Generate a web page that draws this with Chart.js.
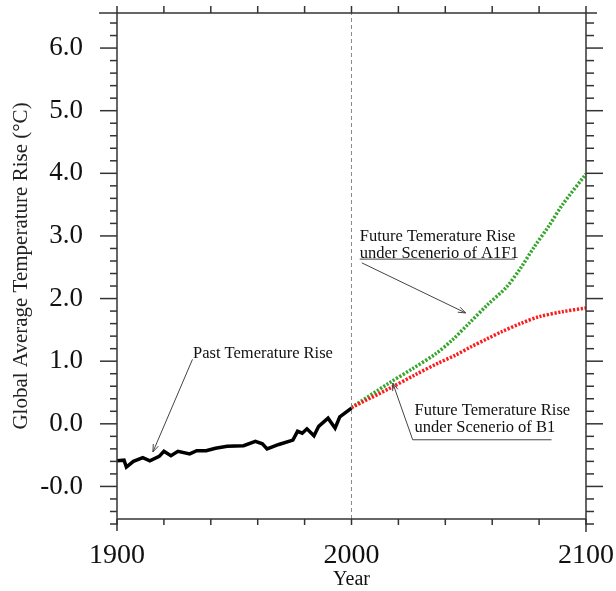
<!DOCTYPE html>
<html>
<head>
<meta charset="utf-8">
<script src="https://cdn.jsdelivr.net/npm/chart.js@4/dist/chart.umd.min.js"></script>
<style>
  html, body { margin: 0; padding: 0; background: #fff; }
  #wrap { width: 616px; height: 591px; }
</style>
</head>
<body>
<div id="wrap"><canvas id="chart" width="616" height="591"></canvas></div>
<script>
// observed record, 1900-2000
const pastYears = [1900, 1903, 1904, 1907, 1911, 1914, 1918, 1920, 1923, 1926, 1931, 1934, 1938, 1942, 1947,
                   1954, 1959, 1962, 1964, 1969, 1975, 1977, 1979, 1981, 1984, 1986, 1990, 1993, 1995, 2000];
const pastRise = [-0.59, -0.58, -0.69, -0.60, -0.54, -0.59, -0.52, -0.44, -0.51, -0.44, -0.48, -0.43, -0.43, -0.39, -0.36,
                  -0.35, -0.28, -0.32, -0.40, -0.33, -0.26, -0.12, -0.15, -0.08, -0.19, -0.04, 0.09, -0.07, 0.11, 0.25];

// projections
const a1f1Years = [2000, 2016, 2026, 2036, 2043, 2050, 2058, 2066, 2072, 2078, 2084, 2090, 2100];
const a1f1Rise = [0.26, 0.65, 0.88, 1.12, 1.34, 1.60, 1.90, 2.18, 2.48, 2.83, 3.15, 3.50, 3.99];
const b1Years = [2000, 2017, 2027, 2037, 2044, 2051, 2058, 2064, 2072, 2080, 2090, 2100];
const b1Rise = [0.26, 0.58, 0.78, 0.97, 1.09, 1.23, 1.36, 1.47, 1.60, 1.71, 1.79, 1.85];

const splitYear = 2000;
const xTickValues = [1900, 2000, 2100];
const yTickValues = [-1, 0, 1, 2, 3, 4, 5, 6];
const yTickLabels = ['-0.0', '0.0', '1.0', '2.0', '3.0', '4.0', '5.0', '6.0'];

const yMin = -1.52, yMax = 6.56;
const serif = "'Liberation Serif', 'Times New Roman', serif";

Chart.defaults.font.family = serif;
Chart.defaults.color = '#111';

function pairs(xs, ys) {
    return xs.map((x, i) => ({ x: x, y: ys[i] }));
}

// chart.js pads the area for edge labels; the frame here is fixed
function noEdgePadding(s) {
    s.paddingTop = 0;
    s.paddingBottom = 0;
    s.paddingLeft = 0;
    s.paddingRight = 0;
}

// text labels with leader lines, placed in data units
const notes = [
    { lines: ['Past Temerature Rise'], at: [1932.4, 1.05], from: [1932.2, 1.03], to: [1915.3, -0.45] },
    { lines: ['Future Temerature Rise', 'under Scenerio of A1F1'], at: [2003.5, 2.92],
      underline: [2003.5, 2069.7, 2.63], from: [2004.4, 2.57], to: [2048.7, 1.77] },
    { lines: ['Future Temerature Rise', 'under Scenerio of B1'], at: [2026.9, 0.14],
      underline: [2026.1, 2085.3, -0.255], from: [2026.1, -0.255], to: [2017.6, 0.65] }
];

const framePlugin = {
    id: 'frame',
    afterDatasetsDraw(chart) {
        const ctx = chart.ctx;
        const a = chart.chartArea;
        const x = chart.scales.x;
        const y = chart.scales.y;

        function seg(x1, y1, x2, y2) {
            ctx.beginPath();
            ctx.moveTo(x1, y1);
            ctx.lineTo(x2, y2);
            ctx.stroke();
        }

        ctx.save();
        ctx.strokeStyle = '#333';
        ctx.lineWidth = 1.5;
        seg(a.left - 18, a.top, a.right + 11, a.top);
        seg(a.left, a.bottom, a.right, a.bottom);
        seg(a.left, a.top, a.left, a.bottom + 12);
        seg(a.right, a.top, a.right, a.bottom + 13);

        // y ticks, minor every 0.2
        for (let i = -8; i <= 32; i++) {
            const py = y.getPixelForValue(i / 5);
            const major = i % 5 === 0;
            seg(a.left - (major ? 17 : 7), py, a.left, py);
            seg(a.right, py, a.right + (major ? 17 : 8), py);
        }
        // x ticks every 20 years
        for (let yr = 1900; yr <= 2100; yr += 20) {
            const px = x.getPixelForValue(yr);
            seg(px, a.bottom, px, a.bottom + 6);
            seg(px, a.top, px, a.top - 7);
        }

        // annotations
        ctx.font = '16.5px ' + serif;
        ctx.fillStyle = '#111';
        ctx.textBaseline = 'alphabetic';
        ctx.strokeStyle = '#444';
        ctx.lineWidth = 1;
        notes.forEach(n => {
            const tx = x.getPixelForValue(n.at[0]);
            const ty = y.getPixelForValue(n.at[1]);
            n.lines.forEach((s, i) => ctx.fillText(s, tx, ty + i * 16.7));
            if (n.underline) {
                const uy = y.getPixelForValue(n.underline[2]);
                seg(x.getPixelForValue(n.underline[0]), uy, x.getPixelForValue(n.underline[1]), uy);
            }
            const fx = x.getPixelForValue(n.from[0]), fy = y.getPixelForValue(n.from[1]);
            const ex = x.getPixelForValue(n.to[0]), ey = y.getPixelForValue(n.to[1]);
            seg(fx, fy, ex, ey);
            const ang = Math.atan2(ey - fy, ex - fx);
            seg(ex, ey, ex - 8 * Math.cos(ang - 0.35), ey - 8 * Math.sin(ang - 0.35));
            seg(ex, ey, ex - 8 * Math.cos(ang + 0.35), ey - 8 * Math.sin(ang + 0.35));
        });
        ctx.restore();
    }
};

new Chart(document.getElementById('chart'), {
    type: 'line',
    data: {
        datasets: [
            {
                label: 'Year 2000',
                data: pairs([splitYear, splitYear], [yMin, yMax]),
                borderColor: '#8a8a8a',
                borderWidth: 1,
                borderDash: [4, 3],
                pointRadius: 0
            },
            {
                label: 'Past Temerature Rise',
                data: pairs(pastYears, pastRise),
                borderColor: '#000',
                borderWidth: 3.5,
                pointRadius: 0,
                tension: 0
            },
            {
                label: 'B1',
                data: pairs(b1Years, b1Rise),
                borderColor: '#ff1a1a',
                borderWidth: 3.5,
                borderDash: [2.2, 1.6],
                borderCapStyle: 'butt',
                pointRadius: 0,
                tension: 0.3
            },
            {
                label: 'A1F1',
                data: pairs(a1f1Years, a1f1Rise),
                borderColor: '#35a52c',
                borderWidth: 3.5,
                borderDash: [2.2, 1.6],
                borderCapStyle: 'butt',
                pointRadius: 0,
                tension: 0.3
            }
        ]
    },
    options: {
        responsive: false,
        animation: false,
        layout: { padding: { top: 13, right: 30, left: 0, bottom: 0 } },
        plugins: {
            legend: { display: false },
            tooltip: { enabled: false }
        },
        scales: {
            x: {
                type: 'linear',
                min: 1900,
                max: 2100,
                grid: { display: false },
                border: { display: false },
                afterBuildTicks: s => { s.ticks = xTickValues.map(v => ({ value: v })); },
                ticks: {
                    callback: v => String(v),
                    font: { size: 28 },
                    padding: 12,
                    maxRotation: 0,
                    autoSkip: false
                },
                title: { display: true, text: 'Year', font: { size: 20 }, padding: { top: 0, bottom: -1 } },
                afterFit: s => { s.height = 72; noEdgePadding(s); }
            },
            y: {
                type: 'linear',
                min: yMin,
                max: yMax,
                grid: { display: false },
                border: { display: false },
                afterBuildTicks: s => { s.ticks = yTickValues.map(v => ({ value: v })); },
                ticks: {
                    callback: (v, i) => yTickLabels[i],
                    font: { size: 27 },
                    padding: 26,
                    autoSkip: false
                },
                title: {
                    display: true,
                    text: 'Global Average Temperature Rise (°C)',
                    font: { size: 21 },
                    color: '#222',
                    padding: { top: 9, bottom: 0 }
                },
                afterFit: s => { s.width = 117; noEdgePadding(s); }
            }
        }
    },
    plugins: [framePlugin]
});
</script>
</body>
</html>
